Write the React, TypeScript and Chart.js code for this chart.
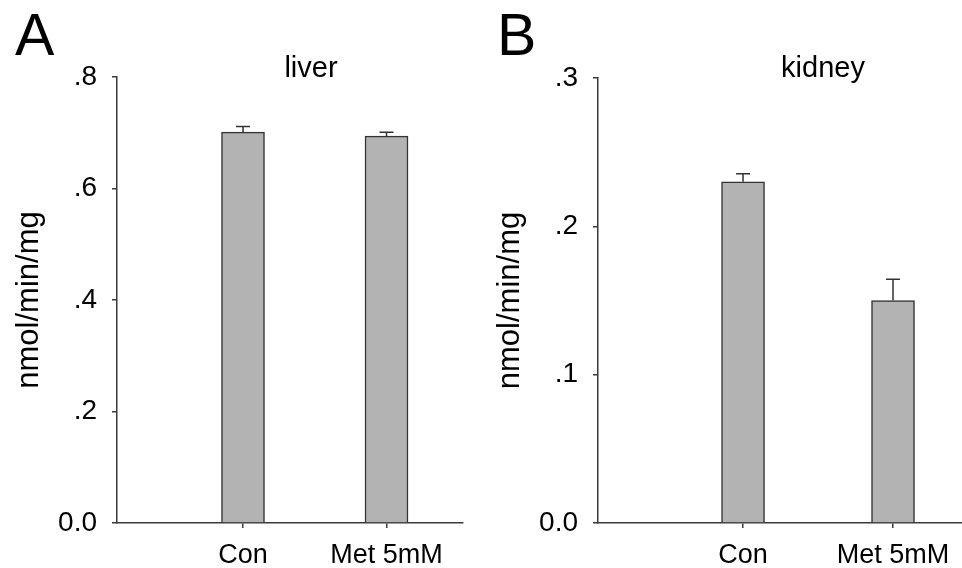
import React, { useEffect, useRef } from "react";
import { Chart, registerables } from "chart.js";

Chart.register(...registerables);

// ---- data ----
const categories = ["Con", "Met 5mM"];
const categoryPositions = [1, 2];
const liverValues = [0.701, 0.694];
const liverErrors = [0.01, 0.007];
const kidneyValues = [0.23, 0.15];
const kidneyErrors = [0.0054, 0.0144];
const liverTickValues = [0, 0.2, 0.4, 0.6, 0.8];
const liverTickLabels = ["0.0", ".2", ".4", ".6", ".8"];
const kidneyTickValues = [0, 0.1, 0.2, 0.3];
const kidneyTickLabels = ["0.0", ".1", ".2", ".3"];
const yAxisTitle = "nmol/min/mg";

const FONT = "'Liberation Sans', Arial, Helvetica, sans-serif";
const AXIS = "#3a3a3a";

type PanelProps = {
  letter: string;
  title: string;
  values: number[];
  errors: number[];
  tickValues: number[];
  tickLabels: string[];
  yMax: number;
  xMin: number;
  xMax: number;
  padTop: number;
  padRight: number;
  titleX: number;
  letterX: number;
  left: number;
};

function Panel(p: PanelProps) {
  const ref = useRef<HTMLCanvasElement | null>(null);
  useEffect(() => {
    if (!ref.current) return;
    const errorBars = {
      id: "errorBars",
      afterDatasetsDraw(chart: any) {
        const meta = chart.getDatasetMeta(0);
        const ys = chart.scales.y;
        const ctx = chart.ctx;
        ctx.save();
        ctx.strokeStyle = "#333";
        ctx.lineWidth = 1.5;
        meta.data.forEach((bar: any, i: number) => {
          const top = ys.getPixelForValue(p.values[i] + p.errors[i]);
          ctx.beginPath();
          ctx.moveTo(bar.x, bar.y);
          ctx.lineTo(bar.x, top);
          ctx.moveTo(bar.x - 7, top);
          ctx.lineTo(bar.x + 7, top);
          ctx.stroke();
        });
        ctx.restore();
      },
    };
    const labelsPlugin = {
      id: "panelLabels",
      afterDraw(chart: any) {
        const ctx = chart.ctx;
        ctx.save();
        ctx.fillStyle = "#000";
        ctx.textBaseline = "alphabetic";
        ctx.textAlign = "center";
        ctx.font = `29px ${FONT}`;
        ctx.fillText(p.title, p.titleX, 77);
        ctx.textAlign = "left";
        ctx.font = `59px ${FONT}`;
        ctx.fillText(p.letter, p.letterX, 55);
        ctx.restore();
      },
    };
    const chart = new Chart(ref.current, {
      type: "bar",
      data: {
        datasets: [
          {
            data: categoryPositions.map((x, i) => ({ x, y: p.values[i] })),
            backgroundColor: "#b3b3b3",
            borderColor: "#333",
            borderWidth: 1.5,
            barThickness: 43,
          } as any,
        ],
      },
      options: {
        animation: false,
        responsive: true,
        maintainAspectRatio: false,
        layout: { padding: { top: p.padTop, right: p.padRight, left: 0, bottom: 0 } },
        plugins: { legend: { display: false }, tooltip: { enabled: false } },
        scales: {
          x: {
            type: "linear",
            min: p.xMin,
            max: p.xMax,
            offset: false,
            afterBuildTicks: (s: any) => {
              s.ticks = categoryPositions.map((v) => ({ value: v }));
            },
            afterFit: (s: any) => {
              s.height = 45;
            },
            grid: {
              offset: false,
              drawOnChartArea: false,
              drawTicks: true,
              tickLength: 5,
              color: AXIS,
              lineWidth: 1.5,
            },
            border: { display: true, color: AXIS, width: 1.5 },
            ticks: {
              autoSkip: false,
              maxRotation: 0,
              padding: 11,
              color: "#000",
              font: { family: FONT, size: 27 },
              callback: (v: any) => categories[categoryPositions.indexOf(Number(v))],
            },
          },
          y: {
            type: "linear",
            min: 0,
            max: p.yMax,
            afterBuildTicks: (s: any) => {
              s.ticks = p.tickValues.map((v) => ({ value: v }));
            },
            afterFit: (s: any) => {
              s.width = 117;
            },
            grid: { drawOnChartArea: false, drawTicks: true, tickLength: 5, color: AXIS, lineWidth: 1.5 },
            border: { display: true, color: AXIS, width: 1.5 },
            ticks: {
              padding: 15,
              color: "#000",
              font: { family: FONT, size: 28 },
              callback: (_v: any, i: number) => p.tickLabels[i],
            },
            title: {
              display: true,
              text: yAxisTitle,
              color: "#000",
              font: { family: FONT, size: 31 },
              padding: { top: 11, bottom: 0 },
            },
          },
        },
      },
      plugins: [errorBars, labelsPlugin],
    } as any);
    return () => chart.destroy();
  }, []);
  return (
    <div style={{ position: "absolute", left: p.left, top: 0, width: 481, height: 568 }}>
      <canvas ref={ref} />
    </div>
  );
}

export default function App() {
  return (
    <div style={{ position: "fixed", left: 0, top: 0, width: 962, height: 568, background: "#fff" }}>
      <Panel
        letter="A"
        title="liver"
        values={liverValues}
        errors={liverErrors}
        tickValues={liverTickValues}
        tickLabels={liverTickLabels}
        yMax={0.8}
        xMin={0.122}
        xMax={2.533}
        padTop={77}
        padRight={18}
        titleX={311}
        letterX={15}
        left={0}
      />
      <Panel
        letter="B"
        title="kidney"
        values={kidneyValues}
        errors={kidneyErrors}
        tickValues={kidneyTickValues}
        tickLabels={kidneyTickLabels}
        yMax={0.3}
        xMin={0.033}
        xMax={2.46}
        padTop={78}
        padRight={0}
        titleX={342}
        letterX={16}
        left={481}
      />
    </div>
  );
}
